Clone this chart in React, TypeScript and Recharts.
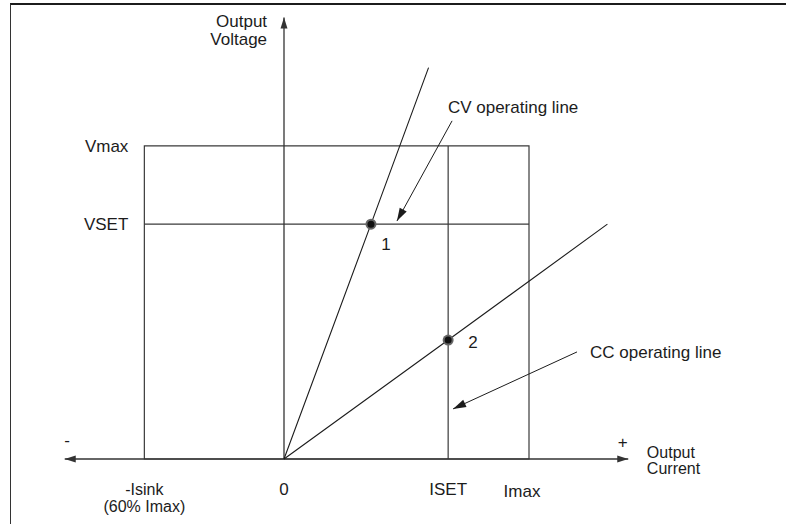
import React from 'react';
import {
  ComposedChart, Line, Scatter, XAxis, YAxis, ReferenceLine, ReferenceDot, ReferenceArea,
} from 'recharts';

// operating envelope (Imax = 1, Vmax = 1)
const iSink = -0.57;
const iSet = 0.67;
const iMax = 1.0;
const vSet = 0.75;
const vMax = 1.0;

const xTicks = [iSink, 0, iSet, iMax];
const xTickLabels = [['-Isink', '(60% Imax)'], ['0'], ['ISET'], ['Imax']];

// load lines through the origin
const cvLine = [{ i: 0, v: 0 }, { i: 0.355, v: 0.75 }, { i: 0.59, v: 1.25 }];
const ccLine = [{ i: 0, v: 0 }, { i: 0.67, v: 0.38 }, { i: 1.32, v: 0.75 }];
const opPoints = [{ i: 0.355, v: 0.75, name: '1' }, { i: 0.67, v: 0.38, name: '2' }];

const INK = '#1c1c1c';
const FONT = '"Liberation Sans", Arial, sans-serif';

function arrowShape(headAtStart: boolean, headAtEnd: boolean, len: number, half: number, stroke: string, sw: number) {
  return (p: any) => {
    const { x1, y1, x2, y2 } = p;
    const head = (tx: number, ty: number, fx: number, fy: number) => {
      const dx = tx - fx;
      const dy = ty - fy;
      const d = Math.hypot(dx, dy) || 1;
      const ux = dx / d;
      const uy = dy / d;
      const bx = tx - ux * len;
      const by = ty - uy * len;
      const pts = `${tx},${ty} ${bx - uy * half},${by + ux * half} ${bx + uy * half},${by - ux * half}`;
      return <polygon points={pts} fill={stroke} />;
    };
    return (
      <g>
        <line x1={x1} y1={y1} x2={x2} y2={y2} stroke={stroke} strokeWidth={sw} />
        {headAtStart && head(x1, y1, x2, y2)}
        {headAtEnd && head(x2, y2, x1, y1)}
      </g>
    );
  };
}

function textShape(lines: string[], anchor: 'start' | 'middle' | 'end', lineH = 18, size = 17, dx = 0) {
  return (p: any) => (
    <text x={p.cx + dx} y={p.cy} textAnchor={anchor} fontSize={size} fontFamily={FONT} fill={INK} dominantBaseline="central">
      {lines.map((t, k) => (
        <tspan key={k} x={p.cx + dx} dy={k === 0 ? 0 : lineH}>{t}</tspan>
      ))}
    </text>
  );
}

function CurrentTick(props: any) {
  const { x, y, index } = props;
  const lines = xTickLabels[index] || [];
  const shift = index === 3 ? -7 : 0;
  return (
    <text x={x + shift} y={y} textAnchor="middle" fontSize={index === 0 ? 16 : 17} fontFamily={FONT} fill={INK} dominantBaseline="central">
      {lines.map((t, k) => (
        <tspan key={k} x={x + shift} dy={k === 0 ? 22 + (index === 3 ? 2 : 0) : 17}>{t}</tspan>
      ))}
    </text>
  );
}

function OpPoint(props: any) {
  const { cx, cy } = props;
  return (
    <g>
      <circle cx={cx} cy={cy} r={5.5} fill="#666" />
      <circle cx={cx} cy={cy} r={3.5} fill="#111" />
    </g>
  );
}

export default function App() {
  return (
    <div style={{ position: 'absolute', left: 0, top: 0, width: 786, height: 524, background: '#fff' }}>
      <div style={{ position: 'absolute', left: 10, top: 3, width: 776, height: 521, borderTop: `2px solid ${INK}`, borderLeft: '1px solid #333' }} />
      <div style={{ position: 'absolute', left: 0, top: 0 }}>
        <ComposedChart width={786} height={524} margin={{ top: 5, right: 134.5, left: 39, bottom: 0 }}>
          <XAxis
            dataKey="i"
            type="number"
            domain={[-1, 1.5]}
            ticks={xTicks}
            interval={0}
            axisLine={false}
            tickLine={false}
            height={65}
            tick={<CurrentTick />}
          />
          <YAxis dataKey="v" type="number" domain={[0, 1.45]} hide />

          <ReferenceArea x1={iSink} x2={iMax} y1={0} y2={vMax} fill="none" stroke="#3a3a3a" strokeWidth={1.2} ifOverflow="visible" />
          <ReferenceLine segment={[{ x: iSink, y: vSet }, { x: iMax, y: vSet }]} stroke="#3a3a3a" strokeWidth={1.2} />
          <ReferenceLine segment={[{ x: iSet, y: 0 }, { x: iSet, y: vMax }]} stroke="#3a3a3a" strokeWidth={1.2} />

          {/* axes */}
          <ReferenceLine segment={[{ x: -0.895, y: 0 }, { x: 1.405, y: 0 }]} shape={arrowShape(true, true, 11, 3.5, '#333', 1.4)} />
          <ReferenceLine segment={[{ x: 0, y: 0 }, { x: 0, y: 1.41 }]} shape={arrowShape(false, true, 11, 3.5, '#333', 1.3)} />

          <Line data={cvLine} dataKey="v" stroke={INK} strokeWidth={1.1} dot={false} activeDot={false} isAnimationActive={false} />
          <Line data={ccLine} dataKey="v" stroke={INK} strokeWidth={1.1} dot={false} activeDot={false} isAnimationActive={false} />
          <Scatter data={opPoints} dataKey="v" shape={<OpPoint />} isAnimationActive={false} />

          {/* callout arrows */}
          <ReferenceLine segment={[{ x: 0.686, y: 1.08 }, { x: 0.461, y: 0.76 }]} shape={arrowShape(false, true, 13, 4, INK, 1)} />
          <ReferenceLine segment={[{ x: 1.196, y: 0.342 }, { x: 0.69, y: 0.16 }]} shape={arrowShape(false, true, 13, 4, INK, 1)} />

          {/* text */}
          <ReferenceDot x={-0.069} y={1.4} shape={textShape(['Output', 'Voltage'], 'end')} ifOverflow="visible" />
          <ReferenceDot x={iSink} y={vMax} shape={textShape(['Vmax'], 'end', 18, 17, -16)} ifOverflow="visible" />
          <ReferenceDot x={iSink} y={vSet} shape={textShape(['VSET'], 'end', 18, 17, -16)} ifOverflow="visible" />
          <ReferenceDot x={0.669} y={1.125} shape={textShape(['CV operating line'], 'start')} />
          <ReferenceDot x={1.249} y={0.342} shape={textShape(['CC operating line'], 'start')} />
          <ReferenceDot x={0.416} y={0.687} shape={textShape(['1'], 'middle')} />
          <ReferenceDot x={0.771} y={0.374} shape={textShape(['2'], 'middle')} />
          <ReferenceDot x={-0.885} y={0.06} shape={textShape(['-'], 'middle')} ifOverflow="visible" />
          <ReferenceDot x={1.383} y={0.055} shape={textShape(['+'], 'middle')} ifOverflow="visible" />
          <ReferenceDot x={1.481} y={0.022} shape={textShape(['Output', 'Current'], 'start', 16, 16)} ifOverflow="visible" />
        </ComposedChart>
      </div>
    </div>
  );
}
